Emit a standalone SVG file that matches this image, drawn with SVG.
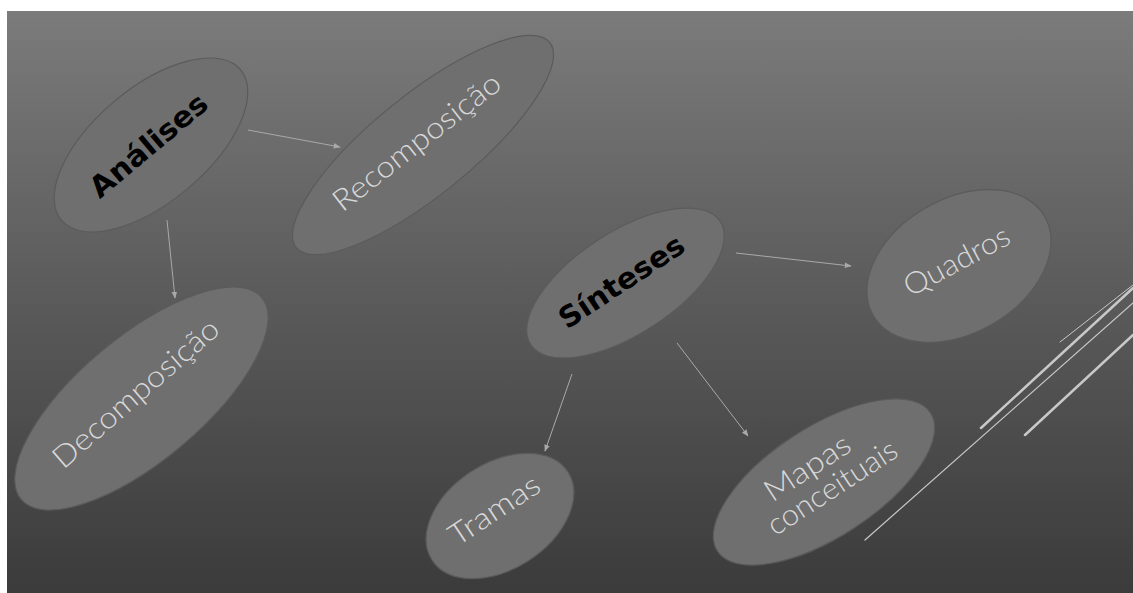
<svg xmlns="http://www.w3.org/2000/svg" width="1133" height="593" viewBox="0 0 1133 593">
<defs>
<linearGradient id="bg" x1="0" y1="0" x2="0" y2="1">
<stop offset="0" stop-color="#7b7b7b"/>
<stop offset="0.5" stop-color="#5a5a5a"/>
<stop offset="1" stop-color="#3b3b3b"/>
</linearGradient>
<marker id="arr" viewBox="0 0 10 10" refX="9" refY="5" markerWidth="7" markerHeight="7" orient="auto" markerUnits="userSpaceOnUse">
<path d="M0,1 L10,5 L0,9 z" fill="#a9a9a9"/>
</marker>
<style>
.node{fill:#6f6f6f;stroke:#5b5b5b;stroke-width:1.2}
.main{font-family:"DejaVu Sans","Liberation Sans",sans-serif;font-weight:bold;font-size:29px;fill:#000;text-anchor:middle}
.lbl{font-family:"Lato","Open Sans","Liberation Sans",sans-serif;font-weight:300;font-size:30px;fill:#d8d8d8;text-anchor:middle}
.conn{stroke:#a9a9a9;stroke-width:1;fill:none;marker-end:url(#arr)}
.deco{stroke:#c8c8c8;fill:none;stroke-linecap:round}
</style>
</defs>
<rect x="0" y="0" width="1133" height="593" fill="#ffffff"/>
<rect x="7" y="11" width="1126" height="582" fill="url(#bg)"/>

<g id="deco-lines">
<line class="deco" x1="1060" y1="342" x2="1133" y2="285" stroke-width="1" stroke="#a8a8a8"/>
<line class="deco" x1="981" y1="428" x2="1133" y2="288" stroke-width="2.5"/>
<line class="deco" x1="865" y1="540" x2="1133" y2="303" stroke-width="1.2" stroke="#b0b0b0"/>
<line class="deco" x1="1025" y1="435" x2="1133" y2="335" stroke-width="2.5"/>
</g>

<g id="connectors">
<line class="conn" x1="248" y1="130" x2="340" y2="147"/>
<line class="conn" x1="167" y1="220" x2="175" y2="298"/>
<line class="conn" x1="736" y1="253" x2="851" y2="266"/>
<line class="conn" x1="572" y1="374" x2="545" y2="451"/>
<line class="conn" x1="677" y1="343" x2="748" y2="436"/>
</g>

<g id="node-analises">
<ellipse class="node" cx="0" cy="0" rx="117" ry="57" transform="translate(151,145) rotate(-40)"/>
<text class="main" transform="translate(155,153) rotate(-40)" textLength="144" lengthAdjust="spacingAndGlyphs">Análises</text>
</g>

<g id="node-recomposicao">
<ellipse class="node" cx="0" cy="0" rx="163" ry="50" transform="translate(423,145) rotate(-39)"/>
<text class="lbl" transform="translate(423,150) rotate(-38)" textLength="204" lengthAdjust="spacingAndGlyphs">Recomposição</text>
</g>

<g id="node-decomposicao">
<ellipse class="node" cx="0" cy="0" rx="157" ry="62" transform="translate(141.5,398.5) rotate(-40)"/>
<text class="lbl" transform="translate(142.5,401) rotate(-41)" textLength="210" lengthAdjust="spacingAndGlyphs">Decomposição</text>
</g>

<g id="node-sinteses">
<ellipse class="node" cx="0" cy="0" rx="113" ry="51" transform="translate(625.5,283) rotate(-33)"/>
<text class="main" transform="translate(627,290) rotate(-33.5)" textLength="144" lengthAdjust="spacingAndGlyphs">Sínteses</text>
</g>

<g id="node-quadros">
<ellipse class="node" cx="0" cy="0" rx="99" ry="67" transform="translate(959,266) rotate(-30)"/>
<text class="lbl" transform="translate(961.5,270) rotate(-28)" textLength="116" lengthAdjust="spacingAndGlyphs">Quadros</text>
</g>

<g id="node-tramas">
<ellipse class="node" cx="0" cy="0" rx="81" ry="53" transform="translate(500,516) rotate(-33)"/>
<text class="lbl" transform="translate(500,518.5) rotate(-33.5)" textLength="103" lengthAdjust="spacingAndGlyphs">Tramas</text>
</g>

<g id="node-mapas">
<ellipse class="node" cx="0" cy="0" rx="127" ry="55" transform="translate(824,482) rotate(-33)"/>
<text class="lbl" transform="translate(827,485) rotate(-33)">
<tspan x="-3" y="-15" textLength="97" lengthAdjust="spacingAndGlyphs">Mapas</tspan>
<tspan x="3" y="15" textLength="149" lengthAdjust="spacingAndGlyphs">conceituais</tspan>
</text>
</g>
</svg>
